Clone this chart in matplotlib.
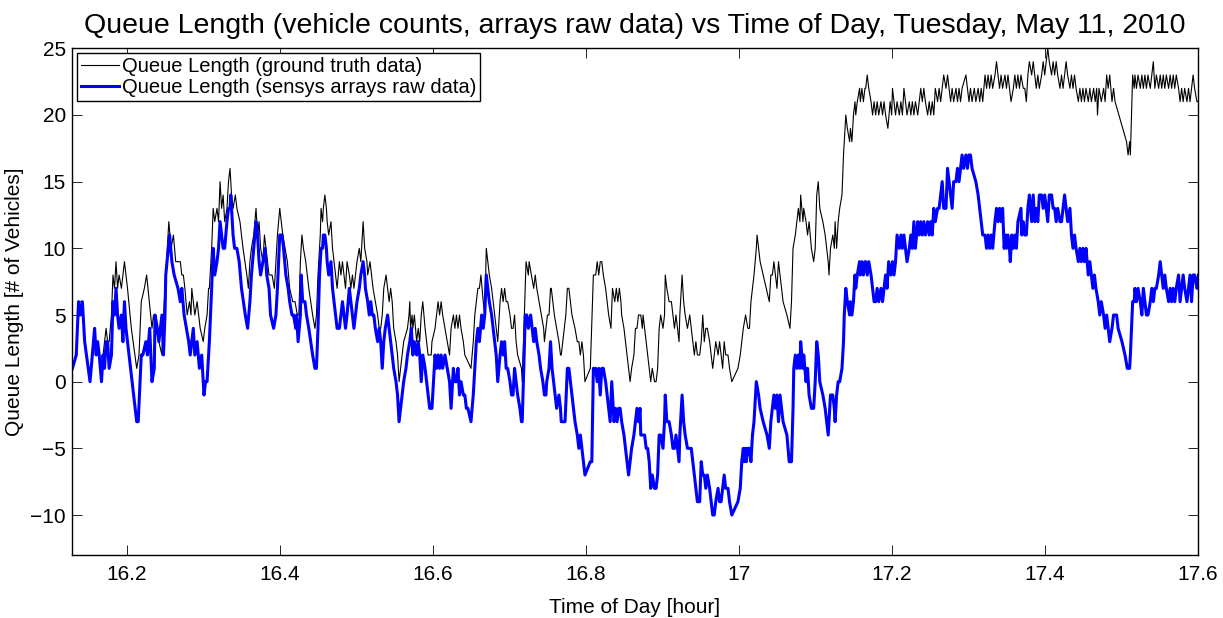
import matplotlib
matplotlib.use("Agg")
import matplotlib.pyplot as plt
from matplotlib.ticker import FuncFormatter
import numpy as np

plt.rcParams['font.family'] = ['Liberation Sans', 'DejaVu Sans']

# (hour of day, queue length) pairs, ground truth counts
ground_truth = [
    (16.129, 1), (16.134, 2), (16.137, 6), (16.142, 6), (16.145, 3), (16.152, 0), (16.158, 4), (16.160, 2),
    (16.164, 2), (16.167, 0), (16.169, 2), (16.171, 3), (16.173, 4), (16.175, 3), (16.177, 3), (16.180, 5),
    (16.182, 8), (16.184, 7), (16.186, 9), (16.188, 7), (16.190, 8), (16.193, 7), (16.195, 8), (16.197, 9),
    (16.199, 8), (16.201, 7), (16.206, 4), (16.213, 1), (16.216, 2), (16.219, 6), (16.223, 7), (16.226, 8),
    (16.233, 4), (16.235, 5), (16.238, 4), (16.242, 3), (16.246, 2), (16.249, 6), (16.251, 8), (16.255, 12),
    (16.258, 10), (16.261, 11), (16.264, 9), (16.267, 9),
    (16.270, 9), (16.272, 8), (16.274, 8), (16.276, 7), (16.279, 5), (16.282, 6), (16.284, 5), (16.285, 7),
    (16.287, 6), (16.289, 5), (16.292, 6), (16.294, 5), (16.296, 4), (16.300, 3), (16.302, 4), (16.305, 5),
    (16.307, 7), (16.308, 7), (16.311, 10), (16.313, 13), (16.315, 12), (16.318, 13), (16.320, 12), (16.322, 15),
    (16.324, 13), (16.326, 14), (16.328, 12), (16.331, 13), (16.333, 15), (16.335, 16), (16.337, 14), (16.339, 13),
    (16.342, 14), (16.344, 13), (16.348, 12), (16.352, 10), (16.357, 8), (16.359, 7), (16.361, 9), (16.363, 10),
    (16.366, 11), (16.369, 13), (16.371, 11), (16.373, 12), (16.375, 10), (16.378, 9), (16.380, 11), (16.382, 10),
    (16.384, 9), (16.386, 8), (16.390, 8), (16.393, 7), (16.395, 9), (16.397, 11), (16.400, 13), (16.402, 12),
    (16.404, 11), (16.407, 10), (16.410, 9), (16.413, 7), (16.417, 6), (16.420, 6), (16.423, 5),
    (16.425, 5), (16.427, 9), (16.429, 11), (16.431, 10), (16.434, 9), (16.438, 7), (16.443, 5), (16.446, 4),
    (16.448, 5), (16.450, 8), (16.453, 11), (16.454, 13), (16.456, 12), (16.457, 13), (16.459, 14), (16.461, 13),
    (16.462, 12), (16.464, 11), (16.467, 12), (16.469, 10), (16.471, 9), (16.473, 8), (16.475, 7), (16.478, 9),
    (16.480, 8), (16.482, 9), (16.484, 8), (16.486, 7), (16.488, 9), (16.491, 8), (16.493, 7), (16.495, 8),
    (16.497, 7), (16.499, 8), (16.501, 9), (16.504, 10), (16.506, 9), (16.508, 11), (16.509, 12), (16.511, 10),
    (16.514, 9), (16.515, 8), (16.518, 9), (16.520, 8), (16.522, 7), (16.525, 6), (16.528, 5), (16.530, 4),
    (16.532, 4), (16.534, 5), (16.536, 7), (16.539, 8), (16.541, 7), (16.543, 6), (16.545, 7), (16.547, 6),
    (16.549, 4), (16.552, 3), (16.554, 2), (16.556, 0), (16.558, 1), (16.560, 2), (16.562, 3), (16.567, 4),
    (16.569, 5),
    (16.570, 6), (16.571, 4), (16.573, 5), (16.574, 4), (16.576, 5), (16.579, 3), (16.581, 4), (16.583, 3),
    (16.585, 5), (16.587, 6), (16.590, 4), (16.592, 3), (16.594, 2), (16.598, 2), (16.599, 3), (16.603, 4),
    (16.605, 5), (16.607, 6), (16.609, 5), (16.611, 6), (16.613, 5), (16.616, 4), (16.619, 3), (16.622, 2),
    (16.624, 4), (16.627, 5), (16.629, 4), (16.631, 5), (16.633, 4), (16.635, 5), (16.637, 4), (16.640, 3),
    (16.642, 2), (16.650, 1), (16.653, 3), (16.655, 5), (16.657, 6), (16.659, 7), (16.661, 7), (16.663, 8),
    (16.666, 6), (16.668, 5), (16.670, 10), (16.672, 9), (16.674, 8), (16.677, 7), (16.679, 6), (16.681, 5),
    (16.683, 4), (16.685, 3), (16.688, 6), (16.690, 7), (16.692, 6), (16.694, 7), (16.696, 6), (16.698, 6),
    (16.701, 5), (16.703, 4), (16.705, 4), (16.707, 5), (16.709, 3), (16.711, 2), (16.716, 1),
    (16.717, 0), (16.722, 9), (16.725, 8), (16.726, 9), (16.729, 8), (16.732, 7), (16.734, 8), (16.736, 7),
    (16.739, 6), (16.742, 5), (16.745, 4), (16.746, 3), (16.748, 4), (16.750, 5), (16.752, 5), (16.754, 7),
    (16.755, 7), (16.757, 6), (16.759, 5), (16.762, 4), (16.765, 3), (16.767, 2), (16.768, 2), (16.770, 3),
    (16.772, 4), (16.774, 5), (16.776, 7), (16.778, 7), (16.780, 6), (16.782, 5), (16.786, 4), (16.789, 3),
    (16.791, 3), (16.793, 2), (16.795, 3), (16.797, 2), (16.799, 0), (16.806, 1), (16.810, 8), (16.813, 8),
    (16.815, 9), (16.817, 8), (16.819, 9), (16.821, 9), (16.823, 8), (16.826, 7), (16.828, 6), (16.830, 5),
    (16.833, 4), (16.835, 7), (16.838, 6), (16.840, 7), (16.842, 6), (16.844, 7), (16.846, 6), (16.847, 5),
    (16.850, 4), (16.852, 3), (16.854, 2), (16.856, 1), (16.858, 0), (16.860, 1), (16.863, 2), (16.865, 4),
    (16.867, 4), (16.869, 5),
    (16.872, 5), (16.874, 4), (16.875, 5), (16.877, 4), (16.879, 3), (16.881, 2), (16.883, 1), (16.885, 0),
    (16.887, 1), (16.890, 0), (16.892, 0), (16.894, 1), (16.896, 4), (16.898, 5), (16.901, 4), (16.903, 5),
    (16.904, 8), (16.906, 7), (16.909, 6), (16.912, 6), (16.914, 5), (16.916, 4), (16.918, 5), (16.920, 4),
    (16.922, 3), (16.923, 5), (16.926, 8), (16.928, 6), (16.930, 5), (16.933, 4), (16.936, 5), (16.938, 4),
    (16.940, 3), (16.942, 2), (16.944, 3), (16.946, 2), (16.949, 2), (16.951, 3), (16.953, 5), (16.955, 3),
    (16.957, 4), (16.959, 4), (16.962, 3), (16.964, 2), (16.966, 1), (16.968, 2), (16.970, 3), (16.973, 2),
    (16.975, 3), (16.977, 2), (16.979, 1), (16.981, 3), (16.983, 2), (16.986, 2), (16.988, 1), (16.991, 0),
    (16.999, 1), (17.002, 2), (17.004, 3), (17.006, 4), (17.009, 5), (17.012, 4), (17.014, 4), (17.016, 6),
    (17.018, 7), (17.020, 8), (17.023, 10),
    (17.024, 11), (17.026, 10), (17.028, 9), (17.040, 6), (17.042, 8), (17.044, 8), (17.046, 9), (17.048, 8),
    (17.050, 7), (17.052, 9), (17.054, 8), (17.056, 7), (17.058, 6), (17.063, 5), (17.067, 4), (17.069, 6),
    (17.071, 10), (17.074, 11), (17.076, 12), (17.078, 13), (17.080, 12), (17.081, 14), (17.084, 12), (17.085, 13),
    (17.088, 12), (17.090, 11), (17.092, 12), (17.095, 10), (17.098, 9), (17.100, 10), (17.102, 14), (17.104, 15),
    (17.106, 13), (17.110, 12), (17.113, 11), (17.117, 9), (17.118, 8), (17.120, 10), (17.123, 11), (17.125, 10),
    (17.126, 12), (17.128, 10), (17.130, 12), (17.132, 13), (17.135, 14), (17.137, 17), (17.138, 18), (17.140, 20),
    (17.142, 19), (17.145, 18), (17.146, 19), (17.148, 18), (17.150, 20), (17.152, 21), (17.153, 20), (17.155, 21),
    (17.158, 22), (17.159, 21), (17.161, 22), (17.163, 21), (17.165, 22),
    (17.166, 22), (17.168, 23), (17.170, 22), (17.173, 21), (17.175, 20), (17.177, 21), (17.179, 20), (17.181, 21),
    (17.183, 20), (17.186, 21), (17.188, 20), (17.190, 21), (17.192, 20), (17.195, 19), (17.198, 21), (17.200, 20),
    (17.201, 22), (17.203, 21), (17.205, 20), (17.207, 21), (17.210, 20), (17.212, 21), (17.214, 20), (17.216, 22),
    (17.218, 21), (17.220, 20), (17.223, 21), (17.225, 20), (17.227, 21), (17.229, 20), (17.231, 21), (17.234, 20),
    (17.236, 21), (17.238, 22), (17.240, 21), (17.242, 22), (17.244, 21), (17.247, 20), (17.249, 21), (17.251, 20),
    (17.253, 21), (17.255, 20), (17.257, 22), (17.260, 21), (17.262, 22), (17.264, 21), (17.266, 22), (17.268, 23),
    (17.271, 22), (17.273, 23), (17.275, 22), (17.277, 21), (17.279, 22), (17.281, 21), (17.284, 22), (17.286, 21),
    (17.288, 22), (17.290, 21), (17.292, 22), (17.297, 23), (17.299, 22), (17.301, 21), (17.303, 22), (17.305, 21),
    (17.308, 22), (17.310, 21),
    (17.313, 22), (17.315, 21), (17.317, 22), (17.319, 21), (17.322, 23), (17.324, 22), (17.326, 23), (17.328, 22),
    (17.330, 23), (17.332, 22), (17.335, 23), (17.337, 24), (17.339, 23), (17.341, 22), (17.343, 23), (17.345, 22),
    (17.348, 23), (17.350, 22), (17.352, 23), (17.354, 22), (17.356, 21), (17.359, 22), (17.361, 23), (17.363, 22),
    (17.365, 23), (17.367, 22), (17.369, 23), (17.372, 22), (17.374, 22), (17.376, 21), (17.378, 23), (17.380, 24),
    (17.383, 23), (17.385, 24), (17.387, 23), (17.389, 22), (17.391, 23), (17.393, 22), (17.396, 23), (17.398, 24),
    (17.400, 23), (17.402, 24), (17.404, 25), (17.406, 24), (17.409, 23), (17.411, 24), (17.413, 23), (17.415, 24),
    (17.417, 23), (17.420, 22), (17.422, 23), (17.424, 22), (17.426, 23), (17.428, 24), (17.430, 23), (17.433, 22),
    (17.435, 23), (17.437, 22), (17.439, 23), (17.441, 22), (17.444, 21), (17.446, 22), (17.448, 21), (17.450, 22),
    (17.452, 21), (17.454, 22), (17.457, 21), (17.459, 22),
    (17.461, 21), (17.464, 22), (17.466, 21), (17.468, 22), (17.469, 20), (17.471, 22), (17.474, 21), (17.477, 22),
    (17.479, 21), (17.481, 23), (17.483, 22), (17.485, 23), (17.488, 21), (17.490, 22), (17.492, 21), (17.507, 18),
    (17.509, 17), (17.511, 18), (17.512, 17), (17.515, 23), (17.517, 22), (17.518, 23), (17.520, 22), (17.522, 23),
    (17.525, 22), (17.527, 23), (17.529, 22), (17.531, 23), (17.533, 22), (17.535, 23), (17.538, 22), (17.540, 23),
    (17.542, 24), (17.544, 22), (17.546, 23), (17.549, 22), (17.551, 23), (17.553, 22), (17.555, 23), (17.557, 22),
    (17.559, 23), (17.562, 22), (17.564, 23), (17.566, 22), (17.568, 23), (17.570, 22), (17.572, 23), (17.575, 22),
    (17.577, 21), (17.579, 22), (17.581, 21), (17.583, 22), (17.586, 21), (17.588, 22), (17.590, 21), (17.592, 22),
    (17.594, 23), (17.596, 22), (17.599, 21), (17.601, 21),
]

# (hour of day, queue length) pairs, sensys arrays raw estimate
sensor_raw = [
    (16.129, 1), (16.134, 2), (16.137, 6), (16.139, 5), (16.142, 6), (16.145, 3), (16.152, 0), (16.158, 4),
    (16.160, 2), (16.162, 3), (16.164, 2), (16.167, 0), (16.169, 2), (16.171, 1), (16.173, 3), (16.175, 3),
    (16.177, 1), (16.180, 2), (16.182, 6), (16.184, 5), (16.186, 7), (16.188, 5), (16.190, 4), (16.193, 5),
    (16.195, 3), (16.197, 6), (16.199, 4), (16.213, -3), (16.215, -3), (16.219, 2), (16.221, 2), (16.225, 3),
    (16.227, 2), (16.230, 4), (16.233, 0), (16.236, 1), (16.237, 5), (16.240, 4), (16.242, 3), (16.246, 5),
    (16.248, 2), (16.250, 5), (16.251, 8), (16.256, 11), (16.259, 9), (16.262, 8), (16.267, 7), (16.270, 6),
    (16.272, 7), (16.275, 5),
    (16.278, 4), (16.281, 3), (16.283, 2), (16.285, 3), (16.287, 4), (16.289, 2), (16.292, 3), (16.295, 1),
    (16.298, 2), (16.301, -1), (16.303, 0), (16.305, 0), (16.308, 3), (16.311, 7), (16.313, 10), (16.315, 8),
    (16.318, 9), (16.320, 10), (16.322, 12), (16.324, 11), (16.326, 10), (16.328, 10), (16.331, 12), (16.333, 13),
    (16.335, 13), (16.336, 14), (16.339, 11), (16.341, 10), (16.344, 10), (16.347, 9), (16.350, 7), (16.355, 5),
    (16.358, 4), (16.361, 6), (16.363, 8), (16.366, 10), (16.369, 12), (16.371, 11), (16.373, 9), (16.375, 8),
    (16.378, 9), (16.381, 10), (16.383, 8), (16.386, 7), (16.388, 5), (16.392, 4), (16.395, 5), (16.397, 7),
    (16.400, 11), (16.403, 11), (16.405, 10), (16.408, 8), (16.411, 7), (16.413, 6), (16.416, 5), (16.418, 5),
    (16.421, 4), (16.422, 5), (16.424, 3), (16.427, 5), (16.428, 8), (16.430, 6), (16.433, 6), (16.435, 5),
    (16.438, 4), (16.443, 2), (16.446, 1), (16.448, 1), (16.450, 4), (16.452, 8), (16.454, 10), (16.456, 10),
    (16.457, 11), (16.459, 11), (16.461, 10), (16.462, 9), (16.464, 8), (16.467, 9), (16.469, 7), (16.471, 6),
    (16.473, 5), (16.475, 4), (16.478, 4), (16.480, 5), (16.482, 6), (16.484, 5), (16.486, 4), (16.488, 5),
    (16.491, 7), (16.493, 6), (16.495, 5), (16.497, 4), (16.499, 5), (16.501, 6), (16.504, 7), (16.506, 8),
    (16.509, 9), (16.511, 8), (16.512, 7), (16.515, 6), (16.517, 5), (16.519, 6), (16.521, 5), (16.523, 5),
    (16.525, 4), (16.528, 3), (16.530, 4), (16.532, 3), (16.534, 1), (16.536, 3), (16.538, 4), (16.541, 5),
    (16.543, 4), (16.545, 3), (16.547, 2), (16.549, 1), (16.552, 0), (16.554, -1), (16.556, -3), (16.558, -2),
    (16.560, -1), (16.562, 0), (16.565, 1), (16.567, 2),
    (16.570, 3), (16.572, 4), (16.574, 2), (16.576, 3), (16.579, 2), (16.581, 3), (16.583, 2), (16.585, 0),
    (16.587, 2), (16.590, 1), (16.592, 0), (16.594, -1), (16.596, -2), (16.599, -2), (16.602, 1), (16.603, 2),
    (16.605, 1), (16.607, 2), (16.609, 1), (16.611, 2), (16.613, 1), (16.616, 2), (16.619, 1), (16.622, 0),
    (16.624, -2), (16.627, 1), (16.629, 0), (16.631, 0), (16.633, 1), (16.635, -1), (16.637, 0), (16.640, -1),
    (16.642, -1), (16.644, -2), (16.646, -2), (16.650, -3), (16.653, -1), (16.655, 1), (16.657, 3), (16.659, 4),
    (16.661, 3), (16.664, 5), (16.666, 4), (16.668, 5), (16.670, 8), (16.672, 7), (16.674, 6), (16.677, 5),
    (16.679, 4), (16.681, 3), (16.683, 2), (16.685, 0), (16.688, 2), (16.690, 3), (16.692, 2), (16.694, 3),
    (16.696, 1), (16.698, 1), (16.701, 0), (16.703, -1), (16.705, -1), (16.707, 1), (16.709, 0), (16.711, -1),
    (16.714, -2), (16.716, -3), (16.717, -3),
    (16.721, 5), (16.723, 5), (16.725, 4), (16.728, 5), (16.730, 4), (16.732, 3), (16.734, 4), (16.736, 3),
    (16.739, 2), (16.741, 1), (16.744, 0), (16.746, -1), (16.748, -1), (16.749, 0), (16.752, 1), (16.754, 3),
    (16.756, 1), (16.758, 0), (16.760, -1), (16.762, -2), (16.765, -1), (16.767, -2), (16.768, -3), (16.773, -3),
    (16.776, 1), (16.778, 1), (16.780, 0), (16.782, -1), (16.784, -2), (16.786, -3), (16.789, -4), (16.791, -5),
    (16.793, -4), (16.795, -5), (16.797, -6), (16.799, -7), (16.806, -6), (16.808, -6), (16.810, 1), (16.813, 1),
    (16.815, 0), (16.817, 1), (16.819, -1), (16.821, 1), (16.823, 1), (16.826, 0), (16.828, -1), (16.830, -2),
    (16.832, -3), (16.834, 0), (16.837, -3), (16.839, -2), (16.841, -3), (16.843, -2), (16.845, -2), (16.847, -3),
    (16.850, -4), (16.852, -5), (16.854, -6), (16.856, -7), (16.858, -6), (16.860, -5), (16.863, -4), (16.865, -3),
    (16.867, -2), (16.869, -3), (16.871, -2),
    (16.872, -4), (16.875, -4), (16.877, -4), (16.879, -5), (16.881, -5), (16.883, -6), (16.885, -8), (16.887, -7),
    (16.890, -8), (16.892, -8), (16.894, -7), (16.896, -4), (16.898, -4), (16.901, -5), (16.903, -3), (16.904, -1),
    (16.906, -3), (16.909, -3), (16.912, -4), (16.914, -5), (16.916, -5), (16.918, -4), (16.920, -5), (16.922, -6),
    (16.923, -4), (16.926, -1), (16.928, -3), (16.930, -4), (16.933, -5), (16.938, -5), (16.940, -6), (16.942, -7),
    (16.944, -8), (16.946, -9), (16.949, -9), (16.951, -6), (16.953, -7), (16.955, -7), (16.957, -8), (16.959, -7),
    (16.962, -8), (16.964, -9), (16.966, -10), (16.968, -10), (16.970, -9), (16.973, -8), (16.975, -9), (16.977, -9),
    (16.979, -8), (16.981, -7), (16.983, -8), (16.986, -8), (16.988, -9), (16.991, -10), (16.999, -9), (17.002, -8),
    (17.004, -6), (17.006, -5), (17.007, -6), (17.009, -5), (17.010, -6), (17.012, -5), (17.014, -5), (17.016, -6),
    (17.018, -4), (17.020, -3), (17.023, 0),
    (17.026, -1), (17.028, -2), (17.032, -3), (17.037, -4), (17.040, -5), (17.042, -3), (17.044, -2), (17.046, -1),
    (17.048, -2), (17.050, -1), (17.052, -3), (17.054, -1), (17.056, -2), (17.058, -3), (17.063, -4), (17.066, -6),
    (17.069, -6), (17.071, -2), (17.072, 1), (17.074, 2), (17.076, 1), (17.078, 2), (17.080, 1), (17.081, 3),
    (17.084, 1), (17.085, 2), (17.088, 0), (17.090, 1), (17.092, -1), (17.095, -2), (17.098, -2), (17.100, 0),
    (17.102, 3), (17.104, 2), (17.106, 0), (17.110, -1), (17.113, -2), (17.117, -4), (17.118, -3), (17.120, -1),
    (17.123, -1), (17.125, -2), (17.126, -3), (17.128, -1), (17.130, 0), (17.132, 0), (17.135, 1), (17.137, 3),
    (17.138, 5), (17.140, 7), (17.142, 6), (17.145, 5), (17.146, 6), (17.148, 5), (17.150, 6), (17.152, 8),
    (17.153, 7), (17.155, 8), (17.158, 9), (17.159, 8), (17.161, 9), (17.163, 8), (17.165, 9),
    (17.166, 9), (17.168, 8), (17.170, 9), (17.173, 8), (17.175, 7), (17.177, 6), (17.179, 6), (17.181, 7),
    (17.183, 6), (17.186, 7), (17.188, 6), (17.190, 7), (17.192, 8), (17.194, 7), (17.196, 9), (17.199, 8),
    (17.201, 9), (17.203, 8), (17.205, 9), (17.207, 11), (17.210, 10), (17.212, 11), (17.214, 10), (17.216, 11),
    (17.218, 10), (17.220, 9), (17.223, 10), (17.225, 11), (17.227, 10), (17.229, 12), (17.231, 10), (17.234, 12),
    (17.236, 11), (17.238, 12), (17.240, 11), (17.242, 12), (17.244, 11), (17.247, 12), (17.249, 11), (17.251, 12),
    (17.253, 11), (17.255, 13), (17.257, 12), (17.260, 13), (17.262, 13), (17.264, 14), (17.266, 15), (17.268, 13),
    (17.271, 13), (17.273, 16), (17.275, 15), (17.277, 14), (17.279, 13), (17.281, 15), (17.284, 15), (17.286, 16),
    (17.288, 15), (17.290, 16), (17.292, 17), (17.294, 16), (17.297, 17), (17.299, 16), (17.301, 17), (17.303, 17),
    (17.305, 16), (17.310, 15),
    (17.313, 14), (17.315, 13), (17.317, 12), (17.319, 11), (17.322, 11), (17.324, 10), (17.326, 11), (17.328, 10),
    (17.330, 11), (17.332, 10), (17.335, 12), (17.337, 13), (17.339, 12), (17.341, 13), (17.343, 12), (17.345, 13),
    (17.347, 10), (17.349, 11), (17.350, 10), (17.352, 11), (17.354, 10), (17.355, 9), (17.357, 11), (17.359, 10),
    (17.361, 11), (17.363, 10), (17.365, 12), (17.369, 13), (17.370, 11), (17.372, 12), (17.374, 11), (17.376, 11),
    (17.378, 13), (17.380, 14), (17.383, 12), (17.385, 14), (17.387, 12), (17.389, 13), (17.391, 12), (17.393, 14),
    (17.396, 14), (17.398, 13), (17.400, 14), (17.402, 13), (17.404, 12), (17.406, 14), (17.409, 14), (17.411, 13),
    (17.413, 13), (17.415, 12), (17.417, 13), (17.420, 12), (17.422, 12), (17.424, 13), (17.426, 14), (17.428, 13),
    (17.430, 12), (17.433, 13), (17.435, 11), (17.437, 10), (17.439, 11), (17.441, 10), (17.444, 9), (17.446, 10),
    (17.448, 9), (17.450, 10), (17.452, 9), (17.454, 10), (17.457, 8), (17.459, 9), (17.461, 8), (17.463, 7),
    (17.465, 8), (17.467, 7), (17.470, 6),
    (17.472, 5), (17.474, 6), (17.477, 5), (17.479, 4), (17.481, 5), (17.483, 4), (17.485, 3), (17.488, 4),
    (17.490, 5), (17.494, 5), (17.496, 4), (17.501, 3), (17.505, 2), (17.508, 1), (17.511, 1), (17.512, 2),
    (17.515, 6), (17.517, 6), (17.518, 7), (17.520, 6), (17.522, 7), (17.525, 6), (17.527, 5), (17.529, 7),
    (17.531, 6), (17.533, 5), (17.535, 5), (17.538, 6), (17.540, 7), (17.542, 6), (17.544, 7), (17.546, 7),
    (17.549, 8), (17.551, 9), (17.553, 8), (17.555, 7), (17.557, 8), (17.559, 7), (17.562, 6), (17.564, 7),
    (17.566, 6), (17.568, 7), (17.570, 6), (17.572, 7), (17.575, 8), (17.577, 6), (17.579, 7), (17.581, 8),
    (17.583, 7), (17.586, 6), (17.588, 7), (17.590, 8), (17.592, 6), (17.594, 8), (17.596, 8), (17.599, 7),
    (17.601, 8),
]

x_ticks = [16.2, 16.4, 16.6, 16.8, 17.0, 17.2, 17.4, 17.6]
y_ticks = [-10, -5, 0, 5, 10, 15, 20, 25]

gt = np.array(ground_truth, dtype=float)
raw = np.array(sensor_raw, dtype=float)

fig = plt.figure(figsize=(12.23, 6.18), dpi=100)
ax = fig.add_axes([0.0586, 0.1019, 0.9207, 0.8199])

ax.plot(gt[:, 0], gt[:, 1], color='black', lw=0.8,
        label='Queue Length (ground truth data)')
ax.plot(raw[:, 0], raw[:, 1], color='blue', lw=2.2,
        label='Queue Length (sensys arrays raw data)')

ax.set_xlim(16.128, 17.6)
ax.set_ylim(-13, 25)
ax.set_xticks(x_ticks)
ax.set_yticks(y_ticks)
ax.xaxis.set_major_formatter(FuncFormatter(lambda v, p: '%g' % v))
ax.tick_params(direction='in', top=True, right=True, length=7, width=0.6,
               labelsize=15)
ax.tick_params(axis='x', pad=7)
ax.tick_params(axis='y', pad=4)
for s in ax.spines.values():
    s.set_linewidth(1.0)

ax.set_title('Queue Length (vehicle counts, arrays raw data) vs Time of Day, Tuesday, May 11, 2010',
             fontsize=20.5, pad=11)
ax.set_xlabel('Time of Day [hour]', fontsize=15, labelpad=10)
ax.set_ylabel('Queue Length [# of Vehicles]', fontsize=15, labelpad=5)

leg = ax.legend(loc='upper left', fontsize=14.5, fancybox=False, framealpha=1,
                edgecolor='black', borderpad=0.2, handlelength=1.9,
                handletextpad=0.15, labelspacing=0.1, borderaxespad=0.25)
leg.get_frame().set_linewidth(1.0)

fig.savefig('out.png', dpi=100)
